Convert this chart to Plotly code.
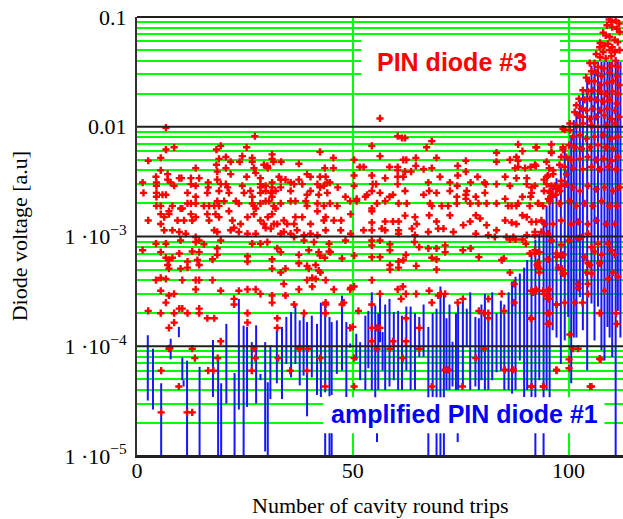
import plotly.graph_objects as go

# ---------------------------------------------------------------------------
# PIN diode #3 samples: (round trip, diode voltage [a.u])
# ---------------------------------------------------------------------------
pin3_early = [
    (6.7,0.0098),(27.3,0.0082),(6.7,0.0062),(8.6,0.0065),(18.4,0.0062),(19.4,0.0067),(25.4,0.0065),(42.4,0.0059),
    (2.6,0.0049),(5.5,0.0052),(19.0,0.0051),(20.6,0.0053),(21.7,0.0048),(23.8,0.0048),(24.4,0.0054),(26.7,0.0052),
    (26.7,0.0048),(30.2,0.0044),(31.3,0.0056),(31.3,0.0051),(31.6,0.0048),(33.4,0.0048),(37.5,0.0046),(45.5,0.0052),
    (5.5,0.0040),(13.6,0.0042),(18.4,0.0045),(18.6,0.0039),(20.6,0.0042),(27.1,0.0042),(27.5,0.0038),(29.4,0.0045),
    (30.3,0.0042),(43.5,0.0042),(45.5,0.0042),
    (4.4,0.0035),(7.1,0.0037),(7.1,0.0033),(9.8,0.0034),(10.3,0.0034),(12.5,0.0034),(14.4,0.0034),(18.6,0.0033),
    (21.7,0.0037),(25.4,0.0035),(28.6,0.0034),(32.9,0.0035),(33.3,0.0033),(35.6,0.0031),(37.5,0.0033),(39.4,0.0037),
    (40.2,0.0035),(42.4,0.0035),(43.7,0.0035),(44.7,0.0031),(46.5,0.0028),
    (1.3,0.0031),(4.5,0.0031),(4.5,0.0029),(7.8,0.0031),(8.6,0.0029),(12.5,0.0030),(13.6,0.0029),(16.5,0.0031),
    (16.5,0.0028),(19.4,0.0030),(20.6,0.0030),(21.0,0.0028),(24.4,0.0029),(28.6,0.0030),(28.6,0.0028),(29.8,0.0029),
    (31.3,0.0031),(31.3,0.0028),(33.3,0.0028),(34.4,0.0033),(36.4,0.0030),(38.3,0.0030),(41.8,0.0030),(42.4,0.0028),
    (43.3,0.0029),(44.1,0.0031),
    (1.5,0.0025),(4.5,0.0025),(4.5,0.0023),(5.9,0.0024),(6.7,0.0024),(11.7,0.0025),(16.3,0.0025),(19.0,0.0026),
    (21.3,0.0025),(24.8,0.0025),(26.3,0.0026),(28.6,0.0025),(29.8,0.0026),(31.0,0.0025),(31.3,0.0023),(32.1,0.0026),
    (35.6,0.0026),(39.4,0.0024),(40.2,0.0026),(42.1,0.0024),(44.1,0.0025),(48.3,0.0023),
    (4.5,0.0019),(5.5,0.0019),(8.2,0.0019),(10.1,0.0018),(11.7,0.0020),(12.5,0.0020),(13.6,0.0023),(13.6,0.0020),
    (15.5,0.0019),(16.7,0.0019),(17.9,0.0019),(18.6,0.0021),(19.0,0.0019),(20.2,0.0021),(22.9,0.0021),(23.6,0.0020),
    (26.7,0.0023),(26.7,0.0020),(27.1,0.0019),(27.5,0.0018),(28.6,0.0020),(29.8,0.0021),(30.6,0.0021),(31.7,0.0019),
    (32.1,0.0018),(33.3,0.0020),(35.6,0.0021),(36.7,0.0021),(39.1,0.0021),(39.4,0.0019),(41.8,0.0020),(43.3,0.0019),
    (44.7,0.0020),(46.4,0.0019),
    (2.6,0.0014),(5.5,0.0016),(5.5,0.0013),(6.3,0.0015),(7.4,0.0017),(7.4,0.0016),(9.4,0.0014),(10.5,0.0018),
    (10.9,0.0014),(12.5,0.0016),(12.8,0.0014),(13.6,0.0015),(16.3,0.0016),(16.7,0.0014),(18.2,0.0016),(19.0,0.0015),
    (21.3,0.0017),(22.1,0.0014),(22.5,0.0012),(24.0,0.0013),(25.6,0.0015),(27.1,0.0016),(28.6,0.0014),(29.4,0.0013),
    (30.3,0.0015),(31.3,0.0016),(31.7,0.0013),(32.5,0.0013),(34.0,0.0014),(34.8,0.0013),(36.4,0.0013),(36.7,0.0015),
    (38.3,0.0015),(40.2,0.0013),(41.8,0.0017),(43.3,0.0014),(43.7,0.0015),(45.6,0.0014),(47.3,0.0014),(49.5,0.0016),
    (6.3,0.00114),(8.2,0.00114),(9.8,0.0011),(11.3,0.00106),(13.6,0.00099),(17.9,0.00114),(18.6,0.0011),(21.7,0.00114),
    (23.6,0.0011),(25.6,0.00106),(27.5,0.00106),(29.8,0.0012),(31.0,0.00118),(33.3,0.00106),(34.0,0.0011),(35.6,0.00106),
    (36.4,0.00099),(37.1,0.00114),(38.7,0.00103),(40.2,0.00106),(41.8,0.00103),(43.7,0.00114),(47.2,0.00114),(49.5,0.00106),
    (4.4,0.00086),(6.7,0.00086),(10.1,0.00092),(13.6,0.00089),(14.4,0.00092),(15.5,0.00085),(19.4,0.00092),(26.7,0.00086),
    (28.6,0.00086),(30.2,0.00089),(38.7,0.00092),(41.0,0.00089),(44.5,0.00086),(48.3,0.00092),
    (1.3,0.00075),(5.5,0.00072),(9.8,0.00070),(12.8,0.00073),(14.4,0.00072),(18.6,0.00078),(18.6,0.00068),(25.6,0.00066),
    (32.5,0.00078),(33.3,0.00072),(37.5,0.00068),(39.8,0.00075),(42.1,0.00072),(42.4,0.00067),(43.5,0.00064),(44.5,0.00073),
    (44.8,0.00072),(47.5,0.00063),
    (6.7,0.00064),(7.4,0.00061),(8.2,0.00064),(7.1,0.00055),(7.4,0.00051),(11.7,0.00059),(11.7,0.00052),(10.1,0.00051),
    (14.0,0.00061),(14.4,0.00055),(17.5,0.00062),(25.6,0.00059),(31.3,0.00062),(37.5,0.00057),(39.4,0.00054),(39.8,0.00051),
    (41.4,0.00055),(42.1,0.00049),(31.3,0.00051),(34.4,0.00051),(33.3,0.00047),
    (5.5,0.00042),(4.4,0.00040),(6.7,0.00041),(10.5,0.00040),(13.6,0.00040),(14.4,0.00040),(17.5,0.00040),(34.0,0.00037),
    (39.4,0.00040),(40.6,0.00042),(41.4,0.00041),(42.5,0.00047),(43.7,0.00040),(49.5,0.00034),
    (5.5,0.00032),(7.4,0.00029),(8.6,0.00030),(13.6,0.00033),(19.4,0.00032),(23.6,0.00032),(25.6,0.00033),(27.5,0.00033),
    (28.6,0.00030),(31.3,0.00029),(34.4,0.00029),(37.5,0.00033),(40.6,0.00035),(45.6,0.00033),
    (6.7,0.00025),(22.5,0.00027),(22.5,0.00024),(31.3,0.00025),(36.4,0.00024),(43.7,0.00025),(43.7,0.00024),(47.5,0.00024),
    (47.9,0.00025),
    (2.6,0.00021),(5.5,0.00020),(8.6,0.00020),(9.8,0.00022),(10.5,0.00022),(11.7,0.00020),(14.4,0.00022),(14.4,0.00020),
    (16.3,0.00018),(17.9,0.00018),(25.6,0.00020),(32.5,0.00018),(38.7,0.00020),(43.7,0.00020),
    (7.4,0.000147),(8.6,0.000164),(25.6,0.000164),(32.5,0.000147),
    (19.4,0.000111),(7.4,0.000095),(12.8,0.000095),(27.1,0.000095),(37.5,0.000095),(39.6,0.000095),
    (5.6,6.0e-5),(5.6,2.5e-5),(11.6,2.5e-5),(12.8,2.5e-5),(16.5,6.0e-5),(17.7,6.0e-5),(27.4,7.8e-5),(26.6,6.0e-5),
    (32.7,7.8e-5),(39.4,6.0e-5),(42.4,7.8e-5),(43.6,4.3e-5),(13.4,7.8e-5),(18.7,7.8e-5),(7.6,9.6e-5),(9.7,4.3e-5),
    (35.5,6.0e-5),(37.7,9.6e-5),
]

pin3_middle = [
    (56.3,0.0119),
    (60.4,0.0082),(61.4,0.0079),(62.1,0.0079),(68.3,0.0074),(54.4,0.0067),(67.1,0.0065),(88.3,0.0069),(89.3,0.0060),
    (92.6,0.0065),(50.3,0.0050),(56.3,0.0054),(61.7,0.0050),(62.4,0.0050),(64.6,0.0052),(69.4,0.0052),(76.2,0.0049),
    (83.3,0.0058),(83.3,0.0048),(86.4,0.0050),(87.9,0.0053),(88.3,0.0049),
    (51.6,0.0043),(52.5,0.0043),(58.5,0.0043),(60.4,0.0043),(60.4,0.0040),(64.6,0.0044),(66.4,0.0041),(68.3,0.0042),
    (74.3,0.0044),(76.2,0.0039),(87.6,0.0042),(88.3,0.0043),(89.9,0.0042),(91.2,0.0043),(92.4,0.0044),
    (50.3,0.0036),(54.4,0.0036),(57.5,0.0034),(60.4,0.0035),(61.7,0.0035),(62.1,0.0039),(63.5,0.0039),(60.4,0.0030),
    (70.2,0.0035),(67.5,0.0031),(74.3,0.0036),(78.9,0.0035),(80.5,0.0031),(83.3,0.0030),(85.3,0.0035),(87.9,0.0034),
    (90.3,0.0034),(90.3,0.0030),
    (50.3,0.0029),(54.6,0.0030),(55.4,0.0030),(67.7,0.0026),(72.5,0.0031),(74.2,0.0029),(77.3,0.0031),(76.4,0.0026),
    (80.8,0.0030),(86.4,0.0029),(91.4,0.0028),
    (50.9,0.0022),(52.9,0.0023),(53.3,0.0024),(54.4,0.0026),(56.3,0.0025),(58.5,0.0023),(59.3,0.0024),(62.1,0.0026),
    (66.4,0.0024),(69.4,0.0025),(72.5,0.0026),(74.1,0.0023),(76.2,0.0024),(76.2,0.0022),(78.5,0.0023),(80.6,0.0025),
    (85.3,0.0022),(89.3,0.0023),(91.2,0.0023),
    (49.4,0.0021),(50.9,0.0021),(54.4,0.0018),(54.4,0.0017),(57.5,0.0021),(55.6,0.0020),(60.6,0.0020),(62.5,0.0020),
    (67.9,0.0020),(68.3,0.0019),(70.6,0.0019),(72.1,0.0019),(74.1,0.0020),(77.2,0.0020),(79.1,0.0020),(81.0,0.0020),
    (83.3,0.0020),(86.0,0.0019),(86.8,0.0019),(87.9,0.0019),(88.3,0.0020),(91.0,0.0019),(93.0,0.0020),
    (54.4,0.00134),(57.5,0.00137),(59.3,0.00137),(60.6,0.00137),(62.1,0.00155),(64.4,0.0015),(64.8,0.0013),(67.7,0.00156),
    (69.4,0.00137),(72.5,0.00156),(75.6,0.00127),(77.2,0.00137),(78.5,0.00156),(79.5,0.00146),(81.0,0.00127),(85.3,0.0014),
    (86.8,0.00134),(87.9,0.0013),(89.3,0.00156),(90.3,0.0015),(91.4,0.00136),(93.7,0.0014),
    (52.5,0.00114),(54.4,0.00114),(56.7,0.00118),(57.5,0.00114),(60.6,0.00114),(60.6,0.00106),(63.7,0.00118),(64.4,0.00103),
    (67.5,0.0011),(69.8,0.00118),(71.0,0.00118),(73.3,0.0011),(78.5,0.00106),(81.4,0.00103),(83.3,0.00114),(85.6,0.00099),
    (87.2,0.00099),(90.3,0.00103),(92.2,0.00103),
    (54.4,0.00092),(54.4,0.00083),(56.3,0.00092),(58.6,0.00085),(58.6,0.00075),(64.3,0.00089),(65.4,0.00080),(67.5,0.00078),
    (69.4,0.00078),(71.4,0.00083),(71.4,0.00072),(75.5,0.00075),(77.3,0.00078),(82.9,0.00099),(86.4,0.00094),(87.7,0.00094),
    (89.3,0.00094),(90.1,0.00086),
    (50.3,0.00067),(54.4,0.00065),(56.3,0.00065),(62.3,0.00068),(61.7,0.00061),(60.6,0.00059),(58.6,0.00055),(58.6,0.00050),
    (60.6,0.00052),(64.7,0.00054),(68.3,0.00064),(69.4,0.00062),(69.4,0.00050),(79.2,0.00065),(84.5,0.00061),(85.0,0.00063),
    (86.4,0.00047),(91.0,0.00070),
    (50.3,0.00035),(54.4,0.00040),(49.4,0.00033),(60.4,0.00033),(61.6,0.00035),(56.3,0.00030),(62.3,0.00030),(64.7,0.00030),
    (67.7,0.00032),(69.8,0.00029),(70.4,0.00030),(71.4,0.00030),(61.2,0.00027),(68.3,0.00025),(74.3,0.00025),(75.5,0.00027),
    (81.4,0.00027),(84.5,0.00030),(87.4,0.00037),(87.4,0.00025),(91.4,0.00032),
    (54.4,0.00024),(51.3,0.00021),(62.3,0.00018),(79.2,0.00021),(80.4,0.00020),(81.4,0.00020),(81.4,0.00018),(85.0,0.00021),
    (91.2,0.00018),
    (49.4,0.000147),(54.4,0.000147),(55.6,0.000147),(56.3,0.000147),(65.4,0.000147),(50.0,0.00015),
    (54.4,0.000111),(59.3,0.000111),(62.3,0.000111),(55.6,0.000095),(58.6,0.000095),(65.4,0.000095),(80.4,0.000095),
    (61.6,0.000078),(78.5,0.000078),(50.3,7.8e-5),(50.3,4.3e-5),
    (71.4,6.1e-5),(72.1,6.1e-5),(85.2,6.1e-5),(87.2,6.1e-5),(91.4,4.3e-5),(68.3,4.3e-5),(75.4,4.3e-5),
]

pin3_rise = [
    (109.4,0.095),(109.9,0.090),(110.9,0.093),(111.7,0.087),(108.9,0.084),(110.1,0.081),(111.2,0.078),(111.8,0.073),
    (108.0,0.072),(108.6,0.068),(109.5,0.066),(110.7,0.062),(111.4,0.059),(107.3,0.058),(108.3,0.055),(109.1,0.057),
    (110.1,0.053),(107.2,0.053),(108.0,0.048),(109.5,0.050),(110.7,0.048),(111.8,0.050),(106.4,0.046),(107.3,0.043),
    (108.6,0.042),(109.9,0.044),(110.9,0.040),(104.9,0.038),(106.0,0.038),(106.8,0.035),(108.1,0.034),(109.9,0.036),
    (111.4,0.035),(105.3,0.032),(106.4,0.031),(107.6,0.029),(109.5,0.031),(111.2,0.029),(104.1,0.028),(104.7,0.026),
    (106.0,0.026),(107.3,0.024),(108.9,0.025),(110.3,0.026),(111.7,0.024),(103.3,0.0215),(104.5,0.021),(105.6,0.0215),
    (107.2,0.021),(108.6,0.020),(110.1,0.021),(111.4,0.020),(102.4,0.018),(103.7,0.0176),(104.9,0.018),(106.4,0.0176),
    (108.0,0.017),(109.5,0.0176),(111.2,0.0163),(101.8,0.0157),(103.0,0.0146),(104.1,0.0141),(105.6,0.0146),(107.3,0.0141),
    (108.9,0.0146),(110.7,0.0141),(101.4,0.0136),(102.2,0.0127),(103.3,0.0123),(104.9,0.0118),(106.4,0.0123),(108.3,0.0127),
    (109.9,0.0118),(111.7,0.0123),(100.3,0.0107),(101.8,0.0103),(103.3,0.0107),(105.3,0.0103),(106.8,0.0100),(108.7,0.0103),
    (110.7,0.0107),(99.1,0.0094),(100.3,0.0093),(101.0,0.0081),(102.6,0.0084),(104.1,0.0078),(106.0,0.0081),(108.0,0.0084),
    (109.9,0.0078),(111.4,0.0081),(98.7,0.0065),(100.1,0.0068),(101.4,0.0065),(103.0,0.0063),(104.9,0.0065),(106.8,0.0068),
    (108.6,0.0065),(110.3,0.0063),(92.4,0.0065),(96.0,0.0069),(96.0,0.0059),(98.3,0.0053),(99.5,0.0053),(100.6,0.0050),
    (102.6,0.0051),(104.5,0.0053),(106.4,0.0050),(108.1,0.0051),(109.9,0.0049),(111.4,0.0053),(92.2,0.0045),(94.9,0.0048),
    (97.9,0.0045),(99.1,0.0043),(101.0,0.0042),(103.3,0.0041),(105.3,0.0043),(107.2,0.0041),(109.1,0.0043),(110.9,0.0041),
    (95.2,0.0036),(96.4,0.0037),(94.9,0.0030),(95.6,0.0026),(97.2,0.0027),(98.3,0.0029),(99.5,0.0030),(101.0,0.0028),
    (102.6,0.0026),(104.5,0.0029),(106.4,0.0027),(108.3,0.0028),(110.3,0.0026),(111.8,0.0028),(92.2,0.0029),(91.4,0.0025),
    (92.9,0.0020),(94.1,0.0019),(95.6,0.0021),(97.9,0.0020),(100.3,0.0021),(101.8,0.0019),(103.7,0.0020),(105.6,0.0019),
    (107.6,0.0021),(109.5,0.0019),(111.2,0.0019),(92.5,0.00136),(94.5,0.0013),(96.4,0.0013),(98.3,0.0014),(100.6,0.0013),
    (102.2,0.00136),(104.5,0.0013),(106.4,0.0014),(108.7,0.0013),(110.7,0.0013),
    (96.0,0.0058),(98.7,0.0062),(98.7,0.0096),(95.5,0.0042),(96.4,0.0040),(95.0,0.0035),(94.3,0.0033),(94.3,0.0026),
    (96.0,0.0029),(97.2,0.0028),(95.7,0.0025),(96.8,0.0029),(98.0,0.0026),(96.0,0.0023),(98.3,0.0032),(99.5,0.0037),
    (97.0,0.0024),(95.3,0.0022),
    (92.2,0.0011),(93.7,0.0011),(95.2,0.00106),(96.0,0.00092),(98.3,0.00084),(98.7,0.00068),(97.2,0.00065),(95.2,0.00062),
    (92.2,0.00070),(92.9,0.00058),(92.9,0.00053),(93.2,0.00047),(97.6,0.00052),(99.1,0.00046),(102.2,0.00096),(103.0,0.00099),
    (104.5,0.00106),(105.3,0.00080),(106.0,0.00073),(106.8,0.00086),(107.6,0.00068),(103.7,0.00065),(104.5,0.00057),
    (104.9,0.00055),(105.3,0.00046),(104.1,0.00047),(109.1,0.00086),(109.9,0.00075),(110.7,0.00068),(107.2,0.00057),
    (109.1,0.00041),(110.3,0.00047),(111.4,0.00043),(94.1,0.00032),(95.2,0.00032),(95.2,0.00029),(95.2,0.00027),
    (92.5,0.00032),(91.8,0.00031),(97.2,0.00024),(99.1,0.00025),(101.4,0.00025),(103.2,0.00025),(102.2,0.00037),
    (102.2,0.00034),(104.5,0.00037),(104.5,0.00030),(108.3,0.00032),(91.4,0.000178),(95.2,0.00020),(95.2,0.00016),
    (107.2,0.00020),(111.0,0.00020),(111.2,0.00016),(100.3,0.000128),(101.0,0.000095),(102.2,0.000095),(107.2,0.000077),
    (97.2,0.000060),(91.4,0.000043),(94.2,0.000043),(105.0,0.000043),(100.1,0.00092),(98.7,0.00046),
    (92.7,0.00055),(93.2,0.00051),(93.2,0.00072),(92.2,0.00075),(97.2,0.00070),(98.4,0.00067),(98.4,0.00051),
    (92.4,0.00033),(94.3,0.00030),(95.5,0.00033),(95.5,0.00027),(97.2,0.00024),(95.5,0.00020),(95.5,0.000161),
    (94.1,4.3e-5),(97.2,6.1e-5),(100.1,7.6e-5),(100.1,6.3e-5),(105.3,4.3e-5),(107.4,7.6e-5),
]

# ---------------------------------------------------------------------------
# Amplified PIN diode #1: vertical excursion per sample (round trip, low, high)
# ---------------------------------------------------------------------------
pin1_spans = [
    (2.5,3.2e-5,1.26e-4),(3.7,2.65e-5,9.5e-5),(5.6,5e-6,4.6e-5),(7.8,7.6e-5,1.17e-4),(9.7,1.21e-4,1.5e-4),
    (10.5,4.9e-5,7.9e-5),(10.8,4.3e-5,4.9e-5),(11.6,5e-6,7.4e-5),(14.5,5e-6,6.5e-5),(17.6,3.45e-5,1.14e-4),
    (18.8,5e-6,7.9e-5),(19.5,5e-6,4.6e-5),(20.7,3.0e-5,1.6e-4),(22.6,5e-6,5.7e-5),(23.6,2.65e-5,2.7e-4),
    (24.7,5e-6,1.54e-4),(25.5,2.8e-5,1.5e-4),(26.6,5.6e-5,1.09e-4),(27.6,3.0e-5,1.55e-4),(28.6,4.9e-5,5.6e-5),
    (29.7,1.1e-5,1.09e-4),(30.3,5e-6,4.7e-5),(30.9,3.3e-5,1.02e-4),(32.4,4.6e-5,1.4e-4),(33.6,3.3e-5,1.5e-4),
    (34.6,6.9e-5,1.85e-4),(35.7,5.2e-5,2.05e-4),(36.7,6.9e-5,2.36e-4),(37.7,4.4e-5,1.72e-4),(38.6,5.4e-5,1.9e-4),
    (39.4,2.3e-5,1.66e-4),(40.5,5.2e-5,1.9e-4),(41.7,3.6e-5,1.6e-4),(42.6,3.45e-5,2.5e-4),(43.6,3.8e-5,2.36e-4),
    (44.6,3.5e-5,1.85e-4),(45.1,3.6e-5,1.66e-4),(46.3,5.6e-5,1.72e-4),(47.5,6.0e-5,2.9e-4),(48.5,3.45e-5,1.66e-4),
    (49.4,9.7e-5,1.06e-4),(50.8,7.4e-5,1.3e-4),(51.7,4.9e-5,1.09e-4),(52.9,4.0e-5,1.9e-4),(53.6,6.3e-5,2.1e-4),
    (54.4,4.0e-5,3.1e-4),(55.2,2.6e-5,2.36e-4),(55.9,4.0e-5,2.0e-4),(56.3,1.09e-4,2.8e-4),(56.9,6.0e-5,1.35e-4),
    (57.5,4.0e-5,2.4e-4),(58.5,4.3e-5,2.7e-4),(59.5,4.9e-5,2.05e-4),(60.5,4.0e-5,2.1e-4),(61.4,4.0e-5,1.9e-4),
    (62.4,6.0e-5,2.3e-4),(63.4,4.0e-5,2.3e-4),(64.4,4.0e-5,2.0e-4),(65.4,8.0e-5,1.85e-4),(66.4,8.0e-5,2.4e-4),
    (67.5,5e-6,1.5e-4),(68.5,3.45e-5,2.0e-4),(69.4,5e-6,2.2e-4),(70.3,5e-6,3.5e-4),(71.1,5e-6,3.0e-4),
    (71.7,4.0e-5,1.8e-4),(72.4,4.0e-5,2.4e-4),(73.1,4.3e-5,1.1e-4),(73.9,4.0e-5,2.0e-4),(74.4,4.0e-5,2.4e-4),
    (75.5,4.3e-5,2.7e-4),(76.4,9.8e-5,2.2e-4),(77.2,4.0e-5,3.1e-4),(78.4,4.3e-5,1.85e-4),(79.2,4.0e-5,1.8e-4),
    (79.8,4.9e-5,2.4e-4),(80.6,4.0e-5,3.0e-4),(81.4,4.0e-5,1.7e-4),(82.3,4.9e-5,3.1e-4),(83.3,5.8e-5,2.0e-4),
    (84.3,6.0e-5,2.6e-4),(85.1,4.0e-5,2.4e-4),(86.1,4.0e-5,3.1e-4),(86.9,3.7e-5,3.9e-4),(87.7,4.0e-5,4.3e-4),
    (88.7,7.4e-5,4.6e-4),(89.7,3.45e-5,5.2e-4),(90.4,4.0e-5,6.1e-4),(91.4,3.45e-5,7.3e-4),(92.3,5e-6,9.4e-4),
    (93.2,4.9e-5,1.07e-3),(94.2,5e-6,1.4e-3),(94.9,4.0e-5,1.9e-3),(95.6,3.4e-5,2.5e-3),(96.3,1.4e-4,2.8e-3),
    (97.2,1.2e-4,3.4e-3),(98.2,6.9e-5,4.3e-3),(99.1,1.13e-4,6.5e-3),(99.9,1.85e-4,5.3e-3),(100.6,4.6e-5,8.4e-3),
    (101.2,1.2e-4,0.0115),(101.8,1.2e-4,0.014),(102.6,2.8e-4,0.0176),(103.3,1.4e-4,0.021),(104.3,6.0e-5,0.028),
    (105.3,2.45e-4,0.036),(106.0,1.13e-4,0.039),(106.8,2.3e-4,0.039),(107.6,9.2e-5,0.039),(108.3,7.4e-5,0.039),
    (109.0,1.5e-4,0.039),(109.5,1.2e-4,0.039),(110.1,8.0e-5,0.039),(110.9,5e-6,0.039),(111.4,2.1e-4,0.039),
    (112.0,1.2e-4,0.039),
    (43.6,5e-6,2.2e-5),(44.6,5e-6,2.2e-5),(45.1,5e-6,2.2e-5),(55.6,1.34e-5,2.2e-5),(74.3,1.34e-5,2.2e-5),
]

# axis ticks
x_ticks = [0, 50, 100]
x_ticktext = ["0", "50", "100"]
y_decades = [1e-5, 1e-4, 1e-3, 1e-2, 1e-1]
y_ticktext = ["1 \u00b710<sup>\u22125</sup>", "1 \u00b710<sup>\u22124</sup>",
              "1 \u00b710<sup>\u22123</sup>", "0.01", "0.1"]

GREEN = "#00ff00"
SERIF = "Liberation Serif, Times New Roman, serif"
SANS = "Liberation Sans, Arial, sans-serif"

pin3 = pin3_early + pin3_middle + pin3_rise
red_x = [p[0] for p in pin3]
red_y = [p[1] for p in pin3]

blue_x, blue_y = [], []
for x, lo, hi in pin1_spans:
    blue_x += [x, x, None]
    blue_y += [lo, hi, None]

minor_vals = [m * d for d in y_decades[:-1] for m in range(2, 10)]

fig = go.Figure()
fig.add_trace(go.Scatter(
    x=blue_x, y=blue_y, mode="lines",
    line=dict(color="#1515ff", width=2), hoverinfo="skip", showlegend=False,
))
fig.add_trace(go.Scatter(
    x=red_x, y=red_y, mode="markers",
    marker=dict(symbol="cross", size=6, color="#ff0000", line=dict(width=0)),
    showlegend=False,
))

# decade lines drawn over the data
for i in range(len(y_decades)):
    fig.add_shape(type="line", xref="paper", yref="paper", x0=0, x1=1,
                  y0=i / (len(y_decades) - 1), y1=i / (len(y_decades) - 1),
                  line=dict(color="#202020", width=2), layer="above")

# label panels (opaque white, covering the grid and data beneath)
fig.add_shape(type="rect", xref="x", yref="paper", x0=52.0, x1=98.0, y0=0.845, y1=0.957,
              fillcolor="white", line=dict(width=0), layer="above")
fig.add_shape(type="rect", xref="x", yref="paper", x0=43.2, x1=108.3, y0=0.052, y1=0.134,
              fillcolor="white", line=dict(width=0), layer="above")

fig.add_annotation(x=73.0, y=0.897, xref="x", yref="paper", text="<b>PIN diode #3</b>",
                   xanchor="center", yanchor="middle", showarrow=False,
                   font=dict(family=SANS, size=25, color="#ff0000"))
fig.add_annotation(x=75.8, y=0.095, xref="x", yref="paper", text="<b>amplified PIN diode #1</b>",
                   xanchor="center", yanchor="middle", showarrow=False,
                   font=dict(family=SANS, size=25, color="#0000ff"))

# axis titles
fig.add_annotation(x=0.5, y=-0.112, xref="paper", yref="paper", text="Number of cavity round trips",
                   xanchor="center", yanchor="middle", showarrow=False,
                   font=dict(family=SERIF, size=22, color="#000000"))
fig.add_annotation(x=-0.241, y=0.5, xref="paper", yref="paper", text="Diode voltage [a.u]",
                   xanchor="center", yanchor="middle", textangle=-90, showarrow=False,
                   font=dict(family=SERIF, size=22, color="#000000"))

fig.update_xaxes(
    range=[0, 112.6], tickvals=x_ticks, ticktext=x_ticktext, ticks="",
    showgrid=True, gridcolor=GREEN, gridwidth=2, zeroline=False,
    showline=True, linecolor="#202020", linewidth=2,
    tickfont=dict(family=SERIF, size=22, color="#000000"), ticklabelstandoff=-6,
)
fig.update_yaxes(
    type="log", range=[-5, -1], tickvals=y_decades, ticktext=y_ticktext, ticks="",
    showgrid=False, zeroline=False,
    showline=True, linecolor="#303030", linewidth=2,
    minor=dict(tickvals=minor_vals, showgrid=True, gridcolor=GREEN, gridwidth=2, ticks=""),
    tickfont=dict(family=SERIF, size=22, color="#000000"), ticklabelstandoff=4,
)
fig.update_layout(
    width=623, height=519,
    margin=dict(l=137, r=0, t=17, b=63),
    paper_bgcolor="white", plot_bgcolor="white",
    showlegend=False,
)
fig.write_html("out.html")
